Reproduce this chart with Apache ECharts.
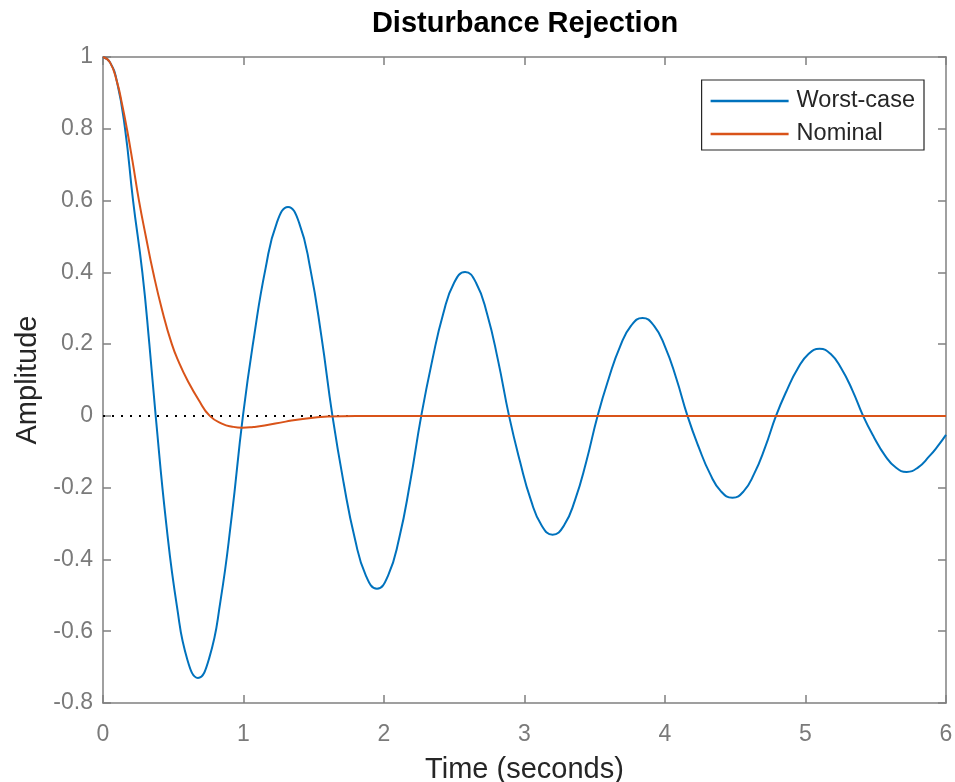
<!DOCTYPE html>
<html>
<head>
<meta charset="utf-8">
<script src="https://cdn.jsdelivr.net/npm/echarts@6/dist/echarts.min.js"></script>
<style>
html,body{margin:0;padding:0;background:#fff;}
#chart{width:955px;height:782px;}
</style>
</head>
<body>
<div id="chart"></div>
<script>
var chartTitle = 'Disturbance Rejection';
var xName = 'Time (seconds)';
var yName = 'Amplitude';
var seriesNames = ['Worst-case', 'Nominal'];

var worstTime = [0, 0.05, 0.10, 0.157, 0.214, 0.28, 0.33, 0.375,
  0.450, 0.526, 0.601, 0.676, 0.756, 0.836, 0.916, 0.996,
  1.076, 1.157, 1.237, 1.317, 1.396, 1.475, 1.554, 1.633,
  1.712, 1.792, 1.871, 1.95, 2.029, 2.108, 2.186, 2.265,
  2.343, 2.421, 2.499, 2.577, 2.655, 2.734, 2.812, 2.89,
  2.968, 3.045, 3.123, 3.2, 3.28, 3.36, 3.44, 3.52,
  3.6, 3.68, 3.76, 3.84, 3.92, 4.0, 4.08, 4.16,
  4.24, 4.32, 4.40, 4.48, 4.558, 4.635, 4.713, 4.79,
  4.868, 4.945, 5.023, 5.1, 5.178, 5.255, 5.333, 5.41,
  5.488, 5.565, 5.643, 5.72, 5.8, 5.88, 5.94, 6.0];
var worstAmp = [1.0, 0.985, 0.93, 0.8, 0.6, 0.4, 0.2, 0.0,
  -0.30, -0.53, -0.68, -0.73, -0.675, -0.516, -0.28, 0.0,
  0.223, 0.411, 0.538, 0.582, 0.538, 0.411, 0.223, 0.0,
  -0.185, -0.341, -0.445, -0.482, -0.445, -0.341, -0.185, 0.0,
  0.154, 0.284, 0.371, 0.401, 0.371, 0.284, 0.154, 0.0,
  -0.127, -0.234, -0.306, -0.331, -0.306, -0.234, -0.127, 0.0,
  0.105, 0.193, 0.252, 0.273, 0.252, 0.193, 0.105, 0.0,
  -0.087, -0.161, -0.211, -0.228, -0.211, -0.161, -0.087, 0.0,
  0.072, 0.132, 0.173, 0.187, 0.173, 0.132, 0.072, 0.0,
  -0.06, -0.11, -0.144, -0.156, -0.144, -0.113, -0.085, -0.053];

var nominalTime = [0, 0.05, 0.10, 0.135, 0.17, 0.21, 0.256, 0.305, 0.357, 0.42, 0.49, 0.545, 0.6, 0.68, 0.76, 0.85, 0.92, 0.99, 1.07, 1.15, 1.3, 1.45, 1.6, 1.8, 2.5, 6.0];
var nominalAmp = [1.0, 0.985, 0.93, 0.87, 0.8, 0.71, 0.6, 0.5, 0.4, 0.296, 0.2, 0.145, 0.1, 0.045, 0.0, -0.022, -0.030, -0.033, -0.031, -0.027, -0.016, -0.007, -0.002, 0.0, 0.0, 0.0];

var zeroTime = [0, 6];
var zeroAmp = [0, 0];

var xTicks = {min: 0, max: 6, interval: 1};
var yTicks = {min: -0.8, max: 1, interval: 0.2};

function pairs(t, v) { return t.map(function (x, i) { return [x, v[i]]; }); }

var FONT = '"Liberation Sans", Arial, Helvetica, sans-serif';
var axisGray = '#808080';

function xAxisDef(pos, showLabels) {
  return {
    type: 'value', position: pos, min: xTicks.min, max: xTicks.max, interval: xTicks.interval,
    name: showLabels ? xName : '', nameLocation: 'middle', nameGap: 52,
    nameTextStyle: {color: '#262626', fontSize: 29, fontFamily: FONT},
    axisLine: {show: true, onZero: false, lineStyle: {color: axisGray, width: 1.5}},
    axisTick: {show: true, inside: true, length: 8, lineStyle: {color: axisGray, width: 1.5}},
    axisLabel: {show: showLabels, color: '#7a7a7a', fontSize: 23, fontFamily: FONT, margin: 20},
    splitLine: {show: false}
  };
}
function yAxisDef(pos, showLabels) {
  return {
    type: 'value', position: pos, min: yTicks.min, max: yTicks.max, interval: yTicks.interval,
    name: showLabels ? yName : '', nameLocation: 'middle', nameGap: 58,
    nameTextStyle: {color: '#262626', fontSize: 29, fontFamily: FONT},
    axisLine: {show: true, onZero: false, lineStyle: {color: axisGray, width: 1.5}},
    axisTick: {show: true, inside: true, length: 8, lineStyle: {color: axisGray, width: 1.5}},
    axisLabel: {show: showLabels, color: '#7a7a7a', fontSize: 23, fontFamily: FONT, margin: 10,
      formatter: function (v) { return String(Math.round(v * 10) / 10); }},
    splitLine: {show: false}
  };
}

var chart = echarts.init(document.getElementById('chart'), null, {renderer: 'canvas'});
chart.setOption({
  backgroundColor: '#ffffff',
  animation: false,
  title: {
    text: chartTitle, left: 520, top: 4, textAlign: 'center',
    textStyle: {color: '#000', fontSize: 29, fontWeight: 'bold', fontFamily: FONT}
  },
  grid: {left: 103, right: 9, top: 57, bottom: 79, containLabel: false, outerBoundsMode: 'none'},
  legend: {
    orient: 'vertical', right: 31, top: 80,
    data: seriesNames,
    icon: 'rect',
    backgroundColor: '#fff', borderColor: '#262626', borderWidth: 1.2, borderRadius: 0,
    padding: [9, 9, 4, 9], itemGap: 9, itemWidth: 78, itemHeight: 2.5,
    textStyle: {color: '#262626', fontSize: 23.5, fontFamily: FONT, padding: [0, 0, 0, 3]}
  },
  xAxis: [xAxisDef('bottom', true), xAxisDef('top', false)],
  yAxis: [yAxisDef('left', true), yAxisDef('right', false)],
  series: [
    {
      name: 'zero', type: 'line', data: pairs(zeroTime, zeroAmp), symbol: 'none',
      lineStyle: {color: '#000', width: 2, type: [2, 7]}, silent: true, z: 1
    },
    {
      name: seriesNames[0], type: 'line', data: pairs(worstTime, worstAmp), symbol: 'none',
      smooth: 0.5, lineStyle: {color: '#0072BD', width: 2}, itemStyle: {color: '#0072BD'}, z: 2
    },
    {
      name: seriesNames[1], type: 'line', data: pairs(nominalTime, nominalAmp), symbol: 'none',
      smooth: 0.5, lineStyle: {color: '#D95319', width: 2}, itemStyle: {color: '#D95319'}, z: 3
    }
  ]
});
</script>
</body>
</html>
